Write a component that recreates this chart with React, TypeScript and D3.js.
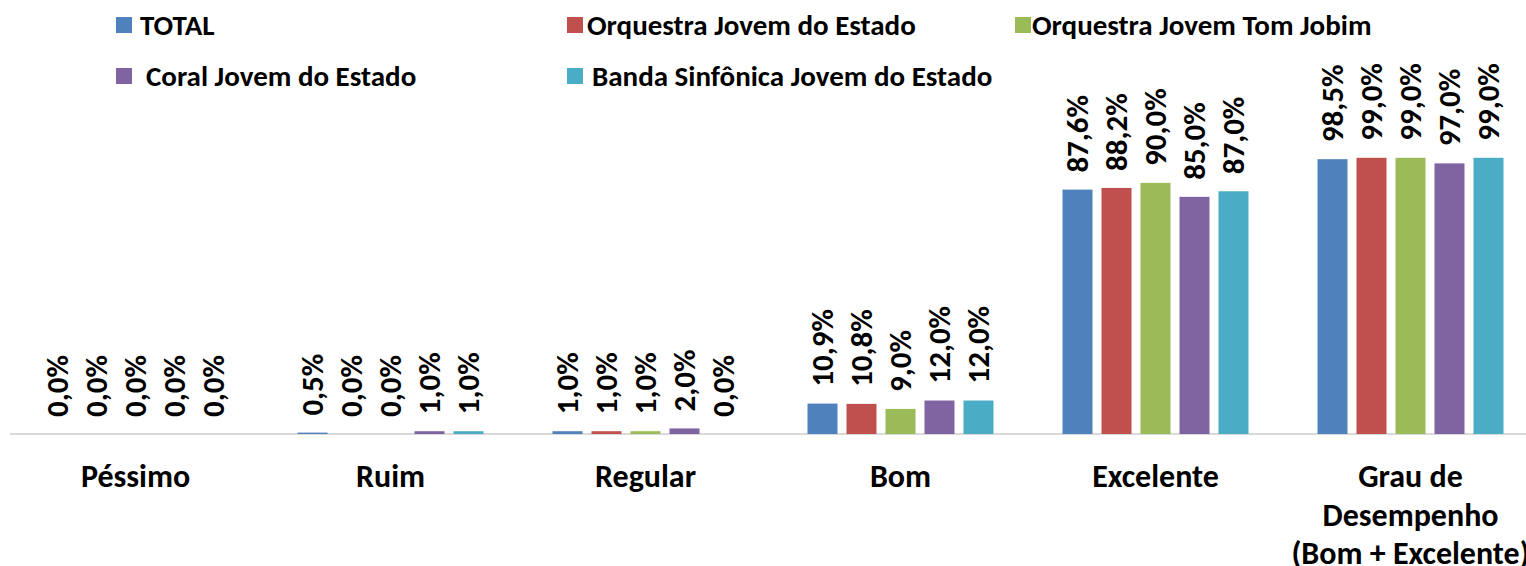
import React from "react";
import * as d3 from "d3";

const categories = ["Péssimo", "Ruim", "Regular", "Bom", "Excelente", "Grau de|Desempenho|(Bom + Excelente)"];
const seriesNames = [
  "TOTAL",
  "Orquestra Jovem do Estado",
  "Orquestra Jovem Tom Jobim",
  "Coral Jovem do Estado",
  "Banda Sinfônica Jovem do Estado",
];
const colors = ["#4F81BD", "#C0504D", "#9BBB59", "#8064A2", "#4BACC6"];
const total = [0, 0.5, 1.0, 10.9, 87.6, 98.5];
const orquestraEstado = [0, 0, 1.0, 10.8, 88.2, 99.0];
const tomJobim = [0, 0, 1.0, 9.0, 90.0, 99.0];
const coral = [0, 1.0, 2.0, 12.0, 85.0, 97.0];
const banda = [0, 1.0, 0, 12.0, 87.0, 99.0];
const seriesValues = [total, orquestraEstado, tomJobim, coral, banda];

const W = 1526;
const H = 566;
const FONT = "Carlito, Calibri, Lato, sans-serif";

export default function App() {
  const x0 = d3.scaleBand<string>().domain(categories).range([8, 1538]).padding(0);
  const x1 = d3
    .scaleBand<string>()
    .domain(seriesNames)
    .range([-97.5, 97.5])
    .paddingInner(0.2308)
    .paddingOuter(0.1154);
  const y = d3.scaleLinear().domain([0, 100]).range([434, 155]);
  const fmt = (v: number) => v.toFixed(1).replace(".", ",") + "%";

  const legend = [
    { i: 0, sx: 116, tx: 140, cy: 25 },
    { i: 1, sx: 567, tx: 587, cy: 25 },
    { i: 2, sx: 1015, tx: 1032, cy: 25 },
    { i: 3, sx: 116, tx: 146, cy: 76 },
    { i: 4, sx: 567, tx: 592, cy: 76 },
  ];

  return (
    <svg
      width={W}
      height={H}
      style={{ position: "fixed", left: 0, top: 0, background: "#fff" }}
      fontFamily={FONT}
      fontWeight="bold"
    >
      {legend.map((l) => (
        <g key={l.i}>
          <rect x={l.sx} y={l.cy - 8} width={16} height={16} fill={colors[l.i]} />
          <text x={l.tx} y={l.cy} dy="0.35em" fontSize={29} fill="#000">
            {seriesNames[l.i]}
          </text>
        </g>
      ))}
      <line x1={10} x2={W} y1={y(0)} y2={y(0)} stroke="#d9d9d9" strokeWidth={2} />
      {categories.map((c, ci) => {
        const cx = (x0(c) as number) + x0.bandwidth() / 2;
        return (
          <g key={c}>
            {seriesNames.map((s, si) => {
              const v = seriesValues[si][ci];
              const bx = cx + (x1(s) as number);
              const bw = x1.bandwidth();
              const top = y(v);
              const lx = bx + bw / 2;
              const ly = top - 17;
              return (
                <g key={s}>
                  {v > 0 && (
                    <rect x={bx} y={top} width={bw} height={y(0) - top} fill={colors[si]} />
                  )}
                  <text
                    transform={`translate(${lx},${ly}) rotate(-90)`}
                    dy="0.35em"
                    fontSize={31}
                    fill="#000"
                  >
                    {fmt(v)}
                  </text>
                </g>
              );
            })}
            {c.split("|").map((line, li) => (
              <text
                key={li}
                x={cx}
                y={476 + li * 38.5}
                dy="0.35em"
                textAnchor="middle"
                fontSize={32}
                fill="#000"
              >
                {line}
              </text>
            ))}
          </g>
        );
      })}
    </svg>
  );
}
